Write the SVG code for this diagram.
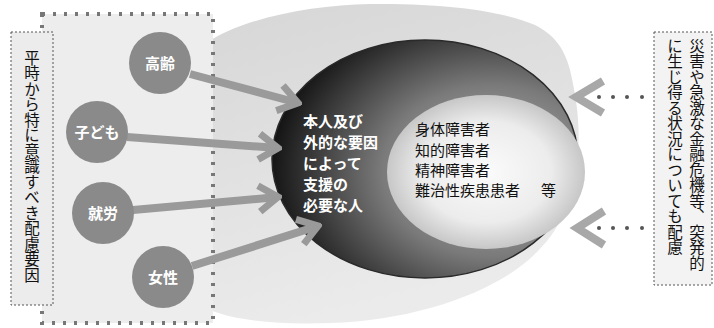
<svg xmlns="http://www.w3.org/2000/svg" width="714" height="328" viewBox="0 0 714 328">
<defs>
<style>
.jp{font-family:"Noto Sans CJK JP","Noto Sans CJK SC",sans-serif;}
.wt{fill:#fff;font-weight:bold;}
.bk{fill:#111;}
.vt{writing-mode:vertical-rl;font-size:15.5px;fill:#111;}
.circ{fill:#8a8a8a;}
.arr{stroke:#9a9a9a;stroke-width:8;fill:none;}
.chev{stroke:#a8a8a8;stroke-width:8;fill:none;}
.dot{fill:#555;}
</style>
<linearGradient id="halo" x1="0" y1="0" x2="0.3" y2="1">
<stop offset="0" stop-color="#d6d6d6"/>
<stop offset="1" stop-color="#ebebeb"/>
</linearGradient>
<radialGradient id="sph" cx="0.72" cy="0.55" r="0.72">
<stop offset="0" stop-color="#b8b8b8"/>
<stop offset="0.5" stop-color="#7a7a7a"/>
<stop offset="1" stop-color="#151515"/>
</radialGradient>
<radialGradient id="inner" cx="0.5" cy="0.5" r="0.55">
<stop offset="0" stop-color="#fbfbfb"/>
<stop offset="0.6" stop-color="#ececec"/>
<stop offset="1" stop-color="#bcbcbc"/>
</radialGradient>
<marker id="ah" viewBox="-24 -18 28 36" refX="0" refY="0" markerWidth="28" markerHeight="36" markerUnits="userSpaceOnUse" orient="auto">
<path d="M -19,-13 L 0,0 L -19,13" stroke="#9a9a9a" stroke-width="7" fill="none"/>
</marker>
</defs>
<rect width="714" height="328" fill="#fff"/>

<g id="halo-shape">
<path d="M 190,60 C 210,25 300,5 370,4 C 450,3 505,12 535,25 C 555,35 565,50 570,70 C 577,100 580,125 578,150 C 575,190 565,225 537,252 C 500,290 420,320 330,323 C 270,325 220,320 190,300 Z" fill="url(#halo)"/>
</g>

<g id="sphere">
<ellipse cx="425" cy="159" rx="153" ry="119" fill="url(#sph)" stroke="#2a2a2a" stroke-width="1.5"/>
<text class="jp wt" font-size="15">
<tspan x="303" y="127">本人及び</tspan>
<tspan x="303" y="148">外的な要因</tspan>
<tspan x="303" y="169">によって</tspan>
<tspan x="303" y="190">支援の</tspan>
<tspan x="303" y="211">必要な人</tspan>
</text>
</g>

<g id="inner-group">
<ellipse cx="486" cy="172" rx="99" ry="77" fill="url(#inner)"/>
<text class="jp bk" font-size="15">
<tspan x="415" y="135">身体障害者</tspan>
<tspan x="415" y="156">知的障害者</tspan>
<tspan x="415" y="176">精神障害者</tspan>
<tspan x="415" y="196">難治性疾患患者</tspan>
<tspan x="541" y="196">等</tspan>
</text>
</g>

<g id="factors-box">
<rect x="42" y="14" width="171" height="309" fill="#ededed" stroke="#777" stroke-width="4" stroke-dasharray="3 8"/>
</g>

<g id="left-label">
<rect x="11" y="32" width="42" height="273" fill="#ececec" stroke="#555" stroke-width="1" stroke-dasharray="2 2"/>
<text class="jp vt" x="32" y="50" font-size="16">平時から特に意識すべき配慮要因</text>
</g>

<g id="connectors">
<line class="arr" x1="190" y1="74" x2="298" y2="103" marker-end="url(#ah)"/>
<line class="arr" x1="127" y1="137" x2="278" y2="148" marker-end="url(#ah)"/>
<line class="arr" x1="133" y1="210" x2="278" y2="197" marker-end="url(#ah)"/>
<line class="arr" x1="192" y1="266" x2="318" y2="226" marker-end="url(#ah)"/>
</g>

<g id="node-koureisha">
<circle class="circ" cx="160" cy="63" r="31"/>
<text class="jp wt" x="160" y="69" font-size="15" text-anchor="middle">高齢</text>
</g>
<g id="node-kodomo">
<circle class="circ" cx="97" cy="132" r="31"/>
<text class="jp wt" x="97" y="138" font-size="15" text-anchor="middle">子ども</text>
</g>
<g id="node-shurou">
<circle class="circ" cx="103" cy="213" r="31"/>
<text class="jp wt" x="103" y="219" font-size="15" text-anchor="middle">就労</text>
</g>
<g id="node-josei">
<circle class="circ" cx="163" cy="277" r="31"/>
<text class="jp wt" x="163" y="283" font-size="15" text-anchor="middle">女性</text>
</g>

<g id="right-label">
<rect x="654" y="32" width="58" height="253" fill="#f3f3f3" stroke="#555" stroke-width="1" stroke-dasharray="2 2"/>
<text class="jp vt" x="697" y="38">災害や急激な金融危機等、突発的</text>
<text class="jp vt" x="675" y="38">に生じ得る状況についても配慮</text>
</g>

<g id="chevrons">
<path class="chev" d="M 603,81 L 576,97 L 603,113"/>
<circle class="dot" cx="599" cy="97" r="2"/>
<circle class="dot" cx="613" cy="97" r="2"/>
<circle class="dot" cx="627" cy="97" r="2"/>
<circle class="dot" cx="642" cy="97" r="2"/>
<path class="chev" d="M 604,211 L 577,228 L 604,245"/>
<circle class="dot" cx="599" cy="228" r="2"/>
<circle class="dot" cx="613" cy="228" r="2"/>
<circle class="dot" cx="627" cy="228" r="2"/>
<circle class="dot" cx="642" cy="228" r="2"/>
</g>
</svg>
